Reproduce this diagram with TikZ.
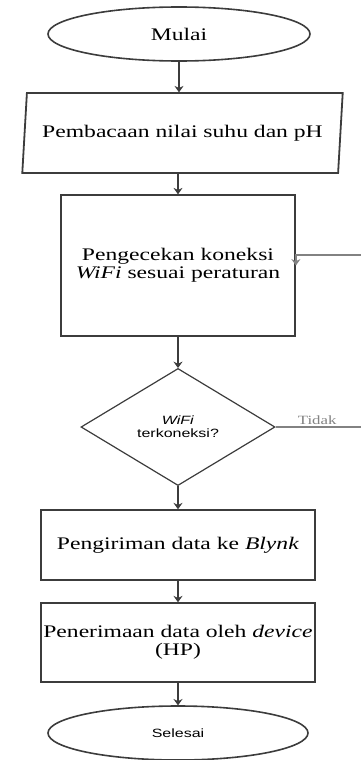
\documentclass[tikz,border=0pt]{standalone}
\usepackage{fontspec}
\setmainfont{Liberation Serif}
\setsansfont{Liberation Sans}
\definecolor{linegray}{RGB}{60,60,60}
\definecolor{loopgray}{RGB}{130,130,130}
\usetikzlibrary{shapes,arrows.meta,positioning,calc}

\begin{document}
\begin{tikzpicture}[x=0.5pt,y=-0.5pt,
    every node/.style={yscale=0.75,transform shape},
    terminal/.style={ellipse,draw=linegray,line width=0.8pt,minimum width=131pt,minimum height=36pt,inner sep=0pt},
    procbox/.style={rectangle,draw=linegray,line width=0.9pt,minimum width=137pt,inner sep=0pt,align=center,font=\fontsize{11.8}{11.8}\selectfont},
    flow/.style={draw=linegray,line width=0.8pt,-{Stealth[length=3.2pt,width=4.5pt]}}]
    \useasboundingbox (0,0) rectangle (360,760);
    \node[terminal,font=\fontsize{11.8}{12}\selectfont] (mulai) at (179,34) {Mulai};
    \node[trapezium,trapezium left angle=79,trapezium right angle=101,trapezium stretches=true,draw=linegray,line width=0.9pt,minimum width=160.5pt,minimum height=53.3pt,inner sep=0pt,font=\fontsize{11.8}{12}\selectfont] (baca) at (182.5,133) {Pembacaan nilai suhu dan pH};
    \node[procbox,minimum width=117pt,minimum height=94pt] (cek) at (178,265.5) {Pengecekan koneksi\\\textit{WiFi} sesuai peraturan};
    \node[diamond,draw=linegray,line width=0.6pt,minimum width=97pt,minimum height=78pt,inner sep=0pt,align=center,font=\sffamily\fontsize{8}{8.5}\selectfont] (cekwifi) at (178,427) {\textit{WiFi}\\terkoneksi?};
    \node[procbox,minimum height=46.7pt] (kirim) at (178,545) {Pengiriman data ke \textit{Blynk}};
    \node[procbox,minimum height=52.7pt] (terima) at (178,642.5) {Penerimaan data oleh \textit{device}\\(HP)};
    \node[terminal,minimum width=130pt,font=\sffamily\fontsize{8}{9}\selectfont] (selesai) at (178,733) {Selesai};
    \coordinate (loopbawah) at (368,427);
    \coordinate (loopatas) at (368,255);

    \draw[flow] (mulai) -- (mulai.south |- baca.north);
    \draw[flow] (baca.south -| cek.north) -- (cek);
    \draw[flow] (cek) -- (cekwifi);
    \draw[flow] (cekwifi) -- (kirim);
    \draw[flow] (kirim) -- (terima);
    \draw[flow] (terima) -- (selesai);
    \draw[flow,draw=loopgray] (cekwifi.east) -- node[pos=0.45,above,inner sep=1.5pt,text=loopgray,font=\fontsize{8.4}{9}\selectfont] (tidak) {Tidak} (loopbawah) -- (loopatas) -- (cek.east |- loopatas) -- (cek.east);
\end{tikzpicture}
\end{document}
